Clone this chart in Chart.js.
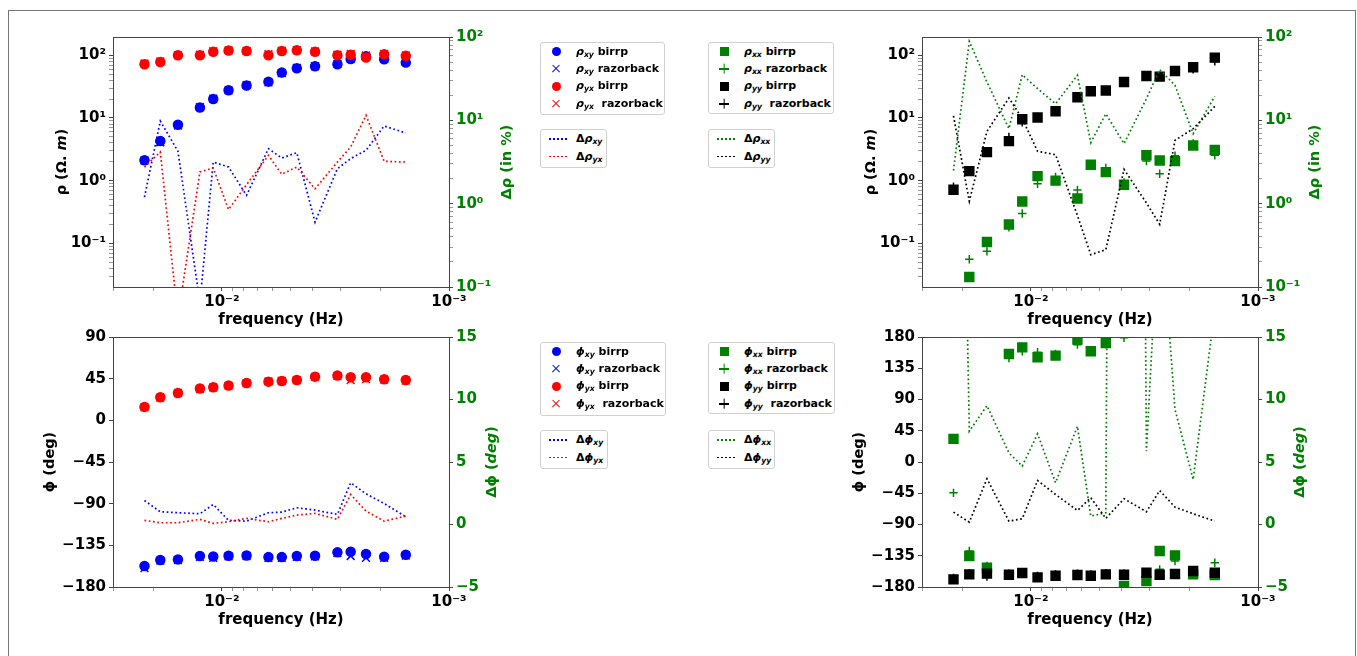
<!DOCTYPE html>
<html>
<head>
<meta charset="utf-8">
<script src="https://cdn.jsdelivr.net/npm/chart.js@4/dist/chart.umd.min.js"></script>
<style>
  html, body { margin: 0; padding: 0; background: #fff; overflow: hidden; }
  body { width: 1357px; height: 656px; position: relative; font-family: "DejaVu Sans", sans-serif; }
  .frame { position: absolute; left: 8px; top: 10px; width: 1346px; height: 700px; border: 1px solid #777; }
  canvas { position: absolute; }
  .legend { position: absolute; background: #fff; border: 1px solid #d0d0d0; border-radius: 3px;
            font-size: 11px; font-weight: bold; color: #000; z-index: 5; }
  .row { height: 17.4px; display: flex; align-items: center; white-space: nowrap; }
  .mk { width: 30px; height: 12px; display: flex; align-items: center; justify-content: center; flex: none; }
  .txt { margin-left: 5px; }
  .txt sub { font-size: 70%; vertical-align: -2px; font-style: italic; }
  .m-circle { width: 9px; height: 9px; border-radius: 50%; background: currentColor; }
  .m-square { width: 9px; height: 9px; background: currentColor; }
  .m-x, .m-plus { width: 10px; height: 10px; position: relative; }
  .m-x::before, .m-x::after, .m-plus::before, .m-plus::after {
    content: ''; position: absolute; left: 0; top: 4.4px; width: 10px; height: 1.3px; background: currentColor; }
  .m-x::before { transform: rotate(45deg); }
  .m-x::after { transform: rotate(-45deg); }
  .m-plus::after { transform: rotate(90deg); }
  .m-dot { width: 19px; height: 1.6px; margin-left: 5px;
           background: repeating-linear-gradient(to right, var(--c) 0 1.6px, transparent 1.6px 4px); }
  .lines .row { height: 17.7px; }
</style>
</head>
<body>
<div class="frame"></div>
<canvas id="c1" width="536" height="330" style="left:13px;top:17px"></canvas>
<canvas id="c2" width="536" height="330" style="left:822px;top:17px"></canvas>
<canvas id="c3" width="536" height="330" style="left:13px;top:317px"></canvas>
<canvas id="c4" width="536" height="330" style="left:822px;top:317px"></canvas>

<div class="legend" style="left:540px;top:42px;width:123px;height:71px">
  <div class="row"><span class="mk" style="color:#0000ff"><span class="m-circle"></span></span><span class="txt"><i>ρ<sub>xy</sub></i> birrp</span></div>
  <div class="row"><span class="mk" style="color:#0000ff"><span class="m-x"></span></span><span class="txt"><i>ρ<sub>xy</sub></i> razorback</span></div>
  <div class="row"><span class="mk" style="color:#ff0000"><span class="m-circle"></span></span><span class="txt"><i>ρ<sub>yx</sub></i> birrp</span></div>
  <div class="row"><span class="mk" style="color:#ff0000"><span class="m-x"></span></span><span class="txt"><i>ρ<sub>yx</sub></i>&nbsp; razorback</span></div>
</div>
<div class="legend lines" style="left:540px;top:129px;width:65px;height:37px">
  <div class="row"><span class="mk"><span class="m-dot" style="--c:#0000ff"></span></span><span class="txt">Δ<i>ρ<sub>xy</sub></i></span></div>
  <div class="row"><span class="mk"><span class="m-dot" style="--c:#ff0000"></span></span><span class="txt">Δ<i>ρ<sub>yx</sub></i></span></div>
</div>
<div class="legend" style="left:708px;top:42px;width:124px;height:70px">
  <div class="row"><span class="mk" style="color:#008000"><span class="m-square"></span></span><span class="txt"><i>ρ<sub>xx</sub></i> birrp</span></div>
  <div class="row"><span class="mk" style="color:#008000"><span class="m-plus"></span></span><span class="txt"><i>ρ<sub>xx</sub></i> razorback</span></div>
  <div class="row"><span class="mk" style="color:#000"><span class="m-square"></span></span><span class="txt"><i>ρ<sub>yy</sub></i> birrp</span></div>
  <div class="row"><span class="mk" style="color:#000"><span class="m-plus"></span></span><span class="txt"><i>ρ<sub>yy</sub></i>&nbsp; razorback</span></div>
</div>
<div class="legend lines" style="left:708px;top:129px;width:65px;height:37px">
  <div class="row"><span class="mk"><span class="m-dot" style="--c:#008000"></span></span><span class="txt">Δ<i>ρ<sub>xx</sub></i></span></div>
  <div class="row"><span class="mk"><span class="m-dot" style="--c:#000"></span></span><span class="txt">Δ<i>ρ<sub>yy</sub></i></span></div>
</div>

<div class="legend" style="left:540px;top:342px;width:124px;height:72px">
  <div class="row"><span class="mk" style="color:#0000ff"><span class="m-circle"></span></span><span class="txt"><i>ϕ<sub>xy</sub></i> birrp</span></div>
  <div class="row"><span class="mk" style="color:#0000ff"><span class="m-x"></span></span><span class="txt"><i>ϕ<sub>xy</sub></i> razorback</span></div>
  <div class="row"><span class="mk" style="color:#ff0000"><span class="m-circle"></span></span><span class="txt"><i>ϕ<sub>yx</sub></i> birrp</span></div>
  <div class="row"><span class="mk" style="color:#ff0000"><span class="m-x"></span></span><span class="txt"><i>ϕ<sub>yx</sub></i>&nbsp; razorback</span></div>
</div>
<div class="legend lines" style="left:540px;top:430px;width:66px;height:37px">
  <div class="row"><span class="mk"><span class="m-dot" style="--c:#0000ff"></span></span><span class="txt">Δ<i>ϕ<sub>xy</sub></i></span></div>
  <div class="row"><span class="mk"><span class="m-dot" style="--c:#ff0000"></span></span><span class="txt">Δ<i>ϕ<sub>yx</sub></i></span></div>
</div>
<div class="legend" style="left:708px;top:342px;width:125px;height:70px">
  <div class="row"><span class="mk" style="color:#008000"><span class="m-square"></span></span><span class="txt"><i>ϕ<sub>xx</sub></i> birrp</span></div>
  <div class="row"><span class="mk" style="color:#008000"><span class="m-plus"></span></span><span class="txt"><i>ϕ<sub>xx</sub></i> razorback</span></div>
  <div class="row"><span class="mk" style="color:#000"><span class="m-square"></span></span><span class="txt"><i>ϕ<sub>yy</sub></i> birrp</span></div>
  <div class="row"><span class="mk" style="color:#000"><span class="m-plus"></span></span><span class="txt"><i>ϕ<sub>yy</sub></i>&nbsp; razorback</span></div>
</div>
<div class="legend lines" style="left:708px;top:430px;width:65px;height:37px">
  <div class="row"><span class="mk"><span class="m-dot" style="--c:#008000"></span></span><span class="txt">Δ<i>ϕ<sub>xx</sub></i></span></div>
  <div class="row"><span class="mk"><span class="m-dot" style="--c:#000"></span></span><span class="txt">Δ<i>ϕ<sub>yy</sub></i></span></div>
</div>

<script>
// frequencies (Hz), shared by all four panels
const freq = [0.02193, 0.01868, 0.01562, 0.0125, 0.01092, 0.00935, 0.00779, 0.00624,
              0.00545, 0.00468, 0.00389, 0.0031, 0.00271, 0.00232, 0.00193, 0.00155];

// apparent resistivity, off-diagonal (Ohm.m)
const rhoXyBirrp = [2.12, 4.3, 7.8, 14.7, 20.1, 27.7, 32.9, 38, 53, 62, 66.8, 72, 87.4, 96.4, 86.4, 76.5];
const rhoXyRazor = [2.1, 4.1, 7.6, 14.9, 20.3, 27.5, 33.5, 37, 52, 63, 67, 73, 88, 99, 88, 78];
const rhoYxBirrp = [72, 78, 100, 100, 114, 119, 117, 100, 117, 120, 114, 100, 102, 92, 104, 98];
const rhoYxRazor = [74, 80, 101, 102, 116, 120, 118, 104, 118, 121, 115, 102, 105, 98, 105, 100];
const dRhoXy = [1.2, 9.8, 4.25, 0.065, 3.16, 2.75, 1.26, 4.57, 3.53, 4.09, 0.6, 2.63, 3.47, 4.37, 8.55, 7.05];
const dRhoYx = [2.75, 4.17, 0.043, 2.4, 2.68, 0.85, 1.69, 3.8, 2.25, 2.75, 1.51, 3.16, 4.79, 11.5, 3.22, 3.16];

// apparent resistivity, diagonal
const rhoXxBirrp = [null, 0.029, 0.105, 0.2, 0.466, 1.18, 1.0, 0.52, 1.79, 1.37, 0.86, 2.55, 2.1, 2.05, 3.64, 3.1];
const rhoXxRazor = [null, 0.0556, 0.0745, 0.18, 0.3, 0.89, 1.15, 0.71, 1.77, 1.6, 0.935, 2.05, 1.29, 2.5, 3.92, 2.55];
const rhoYyBirrp = [0.715, 1.42, 2.85, 4.27, 9.55, 10.2, 12.8, 21.4, 26.7, 27.4, 37.6, 46.9, 45.7, 56.3, 64.4, 91.8];
const rhoYyRazor = [0.8, 1.45, 2.9, 5.0, 8.5, 10.4, 13.0, 22, 27, 27.5, 38, 47, 47, 58, 60, 80];
const dRhoXx = [2.5, 88.7, 28.8, 7.94, 35.3, 24, 15.8, 34.7, 5.4, 12, 5.25, 18.2, 40.6, 26.3, 6.9, 19.4];
const dRhoYy = [11.3, 1.07, 7.38, 18.5, 10.5, 4.25, 3.87, 0.72, 0.244, 0.28, 2.58, 1.02, 0.565, 5.75, 7.94, 14.7];

// phase, off-diagonal (deg)
const phiXyBirrp = [-157.4, -150.9, -150.2, -146.6, -147, -146.2, -145.9, -147.7, -147.7, -146.6, -146.2, -142.6, -141.9, -144.4, -147.3, -145.2];
const phiXyRazor = [-159.5, -151.5, -151, -147.5, -148.5, -147, -146.5, -148.5, -148.5, -147.5, -147, -143.5, -146.5, -148.5, -148.5, -146];
const phiYxBirrp = [14.5, 24.9, 29.6, 34.3, 35.7, 37.5, 40.4, 41.8, 42.5, 43.6, 47.2, 48.3, 46.5, 46.5, 44.3, 43.6];
const phiYxRazor = [14, 24.5, 29.5, 34, 35.5, 37.5, 40, 42, 42.5, 43.5, 47, 48, 43.5, 44.5, 44, 43];
const dPhiXy = [1.92, 1.02, 0.94, 0.86, 1.6, 0.33, 0.27, 0.94, 0.99, 1.34, 1.15, 0.81, 3.34, 2.46, 1.68, 0.62];
const dPhiYx = [0.33, 0.14, 0.14, 0.41, 0.09, 0.22, 0.49, 0.22, 0.49, 0.75, 0.89, 0.41, 2.4, 1.07, 0.27, 0.67];

// phase, diagonal
const phiXxBirrp = [33.3, -135.4, -152.2, 155.6, 165.1, 150.8, 153.2, 176.2, 159.4, 171.4, -178.6, -171.4, -128.2, -134.5, -161.8, -162.8];
const phiXxRazor = [-44.4, -128.2, -149.8, 149.8, 159.4, 158, 155.6, 169, 159, 170, 179, -168, -154.6, -142.6, -161.8, -145];
const phiYyBirrp = [-169, -161.8, -160.8, -162.3, -159.9, -166.1, -163.7, -162.8, -163.7, -161.8, -162.3, -159.4, -162.3, -161.3, -157, -159.4];
const phiYyRazor = [-167, -160, -165, -161, -160, -164, -162, -161, -162, -160, -161, -161, -161, -160, -156, -161];
const dPhiXx = [76, 7.46, 9.51, 5.73, 4.67, 7.25, 3.34, 7.86, 0.67, 0.94, 254, 5.87, 26, 9.2, 3.6, 17.2];
const dPhiYy = [0.99, 0.19, 3.66, 0.27, 0.46, 3.52, 2.4, 1.12, 2.14, 0.49, 2.06, 1.02, 2.72, 1.39, 0.86, 0.27];

// tick positions on the frequency axis (majors at 1e-3, 1e-2)
const freqTicks = [0.001, 0.002, 0.003, 0.004, 0.005, 0.006, 0.007, 0.008, 0.009, 0.01, 0.02, 0.03];

const BLUE = '#0000ff', RED = '#ff0000', GREEN = '#008000', BLACK = '#000000';
const AXIS = '#444';
Chart.defaults.font.family = '"DejaVu Sans", sans-serif';

const SUP = { '-': '⁻', '0': '⁰', '1': '¹', '2': '²', '3': '³', '4': '⁴' };
const isPow10 = (v) => { const l = Math.log10(v); return Math.abs(l - Math.round(l)) < 1e-6; };
const powLabel = (v) => isPow10(v) ? '10' + String(Math.round(Math.log10(v))).split('').map(c => SUP[c]).join('') : '';
const linLabel = (v) => String(v).replace('-', '−');

function logTickValues(min, max) {
    const out = [];
    for (let e = Math.floor(Math.log10(min)); e <= Math.ceil(Math.log10(max)); e++) {
        for (let k = 1; k < 10; k++) {
            const v = parseFloat((k * Math.pow(10, e)).toPrecision(6));
            if (v >= min && v <= max) out.push(v);
        }
    }
    return out;
}

const pts = (ys) => freq.map((f, i) => ({ x: f, y: ys[i] })).filter(p => p.y !== null);

const dots = (ys, color, style, r, extra) => Object.assign({
    data: pts(ys), yAxisID: 'y', pointStyle: style, pointRadius: r,
    backgroundColor: color, borderColor: color, pointBorderWidth: 1.5, clip: 0
}, extra || {});
const dotted = (ys, color) => ({
    data: pts(ys), yAxisID: 'y2', showLine: true, borderColor: color, borderWidth: 1.7,
    borderDash: [1.7, 2.6], pointRadius: 0, clip: 0
});

// draws the axes frame and the vertical axis titles (rotated bottom-to-top, with italic parts)
const panelDecor = {
    id: 'panelDecor',
    afterDraw(chart, args, opts) {
        const { ctx, chartArea: a } = chart;
        ctx.save();
        ctx.strokeStyle = AXIS;
        ctx.lineWidth = 1;
        ctx.strokeRect(Math.round(a.left) + 0.5, Math.round(a.top) + 0.5,
                       Math.round(a.width), Math.round(a.height));
        ctx.restore();
        const cy = (a.top + a.bottom) / 2;
        for (const side of ['left', 'right']) {
            const t = opts[side];
            if (!t) continue;
            const x = side === 'left' ? a.left - t.offset : a.right + t.offset;
            const fonts = t.parts.map(p => (p[1] ? 'italic ' : '') + 'bold 14.5px "DejaVu Sans"');
            ctx.save();
            const widths = t.parts.map((p, i) => { ctx.font = fonts[i]; return ctx.measureText(p[0]).width; });
            const total = widths.reduce((s, w) => s + w, 0);
            ctx.translate(x, cy);
            ctx.rotate(-Math.PI / 2);
            ctx.fillStyle = t.color;
            ctx.textBaseline = 'middle';
            ctx.textAlign = 'left';
            let cx = -total / 2;
            t.parts.forEach((p, i) => { ctx.font = fonts[i]; ctx.fillText(p[0], cx, 0); cx += widths[i]; });
            ctx.restore();
        }
    }
};

const tickFont = { size: 15, weight: 'bold' };
const tickGrid = {
    drawOnChartArea: false, drawTicks: true, tickLength: 4,
    tickColor: (c) => (c.tick && c.scale.type === 'logarithmic' && !isPow10(c.tick.value)) ? '#999' : AXIS
};

function yScale(cfg, position, color) {
    const s = {
        type: cfg.type, position: position, min: cfg.min, max: cfg.max,
        afterFit: (sc) => { sc.width = 100; },
        grid: tickGrid, border: { display: false },
        ticks: { font: tickFont, color: color, padding: 3, autoSkip: false }
    };
    if (cfg.type === 'logarithmic') {
        s.afterBuildTicks = (sc) => { sc.ticks = logTickValues(cfg.min, cfg.max).map(v => ({ value: v })); };
        s.ticks.callback = powLabel;
    } else {
        s.ticks.stepSize = cfg.step;
        s.ticks.callback = linLabel;
    }
    return s;
}

function makePanel(id, datasets, left, right, titles) {
    return new Chart(document.getElementById(id), {
        type: 'scatter',
        data: { datasets: datasets },
        options: {
            responsive: false, animation: false, events: [],
            layout: { padding: { top: 20, left: 0, right: 0, bottom: 0 } },
            plugins: { legend: { display: false }, tooltip: { enabled: false }, panelDecor: titles },
            scales: {
                x: {
                    type: 'logarithmic', reverse: true, min: 0.001, max: 0.03018, position: 'bottom',
                    afterFit: (sc) => { sc.height = 60; },
                    afterBuildTicks: (sc) => { sc.ticks = freqTicks.map(v => ({ value: v })); },
                    grid: tickGrid, border: { display: false },
                    ticks: { font: tickFont, color: BLACK, padding: 2, autoSkip: false, maxRotation: 0, callback: powLabel },
                    title: { display: true, text: 'frequency (Hz)', color: BLACK,
                             font: { size: 15, weight: 'bold' }, padding: { top: 0, bottom: 18 } }
                },
                y: yScale(left, 'left', BLACK),
                y2: yScale(right, 'right', GREEN)
            }
        },
        plugins: [panelDecor]
    });
}

const rhoAxis = { type: 'logarithmic', min: 0.0201, max: 196 };
const dRhoAxis = { type: 'logarithmic', min: 0.1, max: 100 };
const dPhiAxis = { type: 'linear', min: -5, max: 15, step: 5 };

makePanel('c1', [
    dotted(dRhoYx, RED), dotted(dRhoXy, BLUE),
    dots(rhoYxRazor, RED, 'crossRot', 5.5), dots(rhoYxBirrp, RED, 'circle', 4.5),
    dots(rhoXyRazor, BLUE, 'crossRot', 5.5), dots(rhoXyBirrp, BLUE, 'circle', 4.5)
], rhoAxis, dRhoAxis, {
    left: { offset: 51, color: BLACK, parts: [['ρ (Ω. ', false], ['m', true], [')', false]] },
    right: { offset: 58, color: GREEN, parts: [['Δρ (in %)', false]] }
});

makePanel('c2', [
    dotted(dRhoYy, BLACK), dotted(dRhoXx, GREEN),
    dots(rhoYyRazor, BLACK, 'cross', 4.2), dots(rhoYyBirrp, BLACK, 'rect', 6.3),
    dots(rhoXxRazor, GREEN, 'cross', 4.2), dots(rhoXxBirrp, GREEN, 'rect', 6.3)
], rhoAxis, dRhoAxis, {
    left: { offset: 51, color: BLACK, parts: [['ρ (Ω. ', false], ['m', true], [')', false]] },
    right: { offset: 57, color: GREEN, parts: [['Δρ (in %)', false]] }
});

makePanel('c3', [
    dotted(dPhiYx, RED), dotted(dPhiXy, BLUE),
    dots(phiYxRazor, RED, 'crossRot', 5.5), dots(phiYxBirrp, RED, 'circle', 4.5),
    dots(phiXyRazor, BLUE, 'crossRot', 5.5), dots(phiXyBirrp, BLUE, 'circle', 4.5)
], { type: 'linear', min: -180, max: 90, step: 45 }, dPhiAxis, {
    left: { offset: 63, color: BLACK, parts: [['ϕ (deg)', false]] },
    right: { offset: 43, color: GREEN, parts: [['Δϕ (', false], ['deg', true], [')', false]] }
});

makePanel('c4', [
    dotted(dPhiYy, BLACK), dotted(dPhiXx, GREEN),
    dots(phiYyRazor, BLACK, 'cross', 4.2), dots(phiYyBirrp, BLACK, 'rect', 6.3),
    dots(phiXxRazor, GREEN, 'cross', 4.2), dots(phiXxBirrp, GREEN, 'rect', 6.3)
], { type: 'linear', min: -180, max: 180, step: 45 }, dPhiAxis, {
    left: { offset: 63, color: BLACK, parts: [['ϕ (deg)', false]] },
    right: { offset: 42, color: GREEN, parts: [['Δϕ (', false], ['deg', true], [')', false]] }
});
</script>
</body>
</html>
